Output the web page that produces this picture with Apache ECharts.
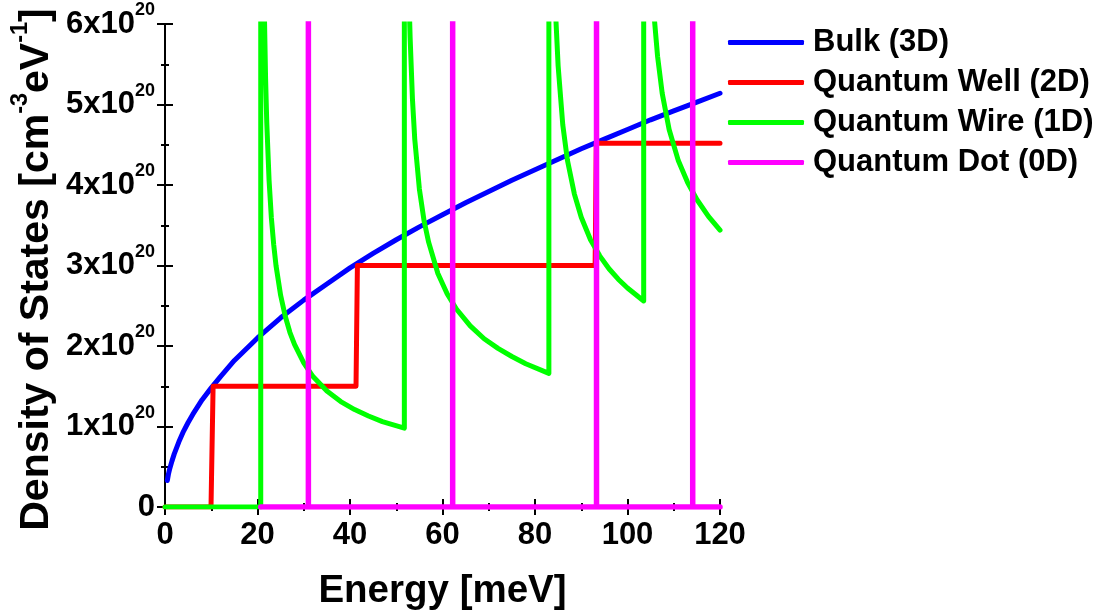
<!DOCTYPE html>
<html><head><meta charset="utf-8">
<script src="https://cdn.jsdelivr.net/npm/echarts@6/dist/echarts.min.js"></script>
<style>html,body{margin:0;padding:0;background:#fff}#c{width:1106px;height:616px}</style>
</head><body><div id="c"></div>
<script>
// x: Energy [meV]; y: Density of States in units of 1e20 cm^-3 eV^-1
const xTickLabels = ['0','20','40','60','80','100','120'];
const yTickExponent = '20';
const seriesNames = ['Bulk (3D)', 'Quantum Well (2D)', 'Quantum Wire (1D)', 'Quantum Dot (0D)'];
const seriesColors = ['#0000ff', '#ff0000', '#00ff00', '#ff00ff'];

const bulk = [[0.5,0.33],[0.75,0.41],[1,0.47],[1.5,0.57],[2,0.66],[3,0.81],[4,0.94],[5,1.05],[6,1.15],[8,1.33],[10,1.48],[12,1.62],[15,1.82],[20,2.10],[25,2.35],[30,2.57],[35,2.77],[40,2.97],[45,3.15],[50,3.32],[55,3.48],[60,3.63],[65,3.78],[70,3.92],[75,4.06],[80,4.19],[85,4.32],[90,4.45],[95,4.57],[100,4.69],[105,4.81],[110,4.92],[115,5.03],[120,5.14]];

const well = [[0,0],[9.95,0],[10.4,1.5],[41.3,1.5],[41.6,3.0],[93.0,3.0],[93.25,4.52],[120,4.52]];

const wire = [[0,0],[20.7,0],[20.7,8],[21.5,6.09],[21.75,5.32],[22,4.78],[22.5,4.06],[23,3.59],[23.5,3.26],[24,3.00],[25,2.63],[26,2.37],[27,2.17],[28,2.02],[30,1.79],[32,1.62],[35,1.44],[38,1.31],[41,1.21],[44,1.13],[47,1.06],[51.75,0.98],
  [51.75,8],[52.9,6.04],[53,5.83],[53.5,5.07],[54,4.57],[55,3.95],[56,3.56],[57,3.29],[59,2.90],[61,2.65],[63,2.46],[66,2.25],[69,2.09],[72,1.97],[75,1.87],[78,1.78],[83.0,1.66],
  [83.0,8],[84.5,6.08],[85,5.48],[86,4.75],[87,4.31],[88.5,3.89],[90,3.60],[92,3.32],[94,3.12],[96,2.96],[98,2.83],[100,2.72],[103.5,2.56],
  [103.5,8],[105.8,6.07],[106.5,5.60],[107.5,5.14],[109,4.69],[111,4.30],[113,4.03],[115,3.82],[117.5,3.61],[120,3.44]];

const dot = [[20.7,0],[31.0,0],[31.0,8],[31.0,0],[62.2,0],[62.2,8],[62.2,0],[93.3,0],[93.3,8],[93.3,0],[114.1,0],[114.1,8],[114.1,0],[120,0]];

const FONT = '"Liberation Sans", Arial, sans-serif';
const chart = echarts.init(document.getElementById('c'), null, {renderer: 'canvas'});

const axisLine = {show: true, lineStyle: {color: '#000', width: 2}};
const axisTick = {show: true, inside: true, length: 8, lineStyle: {color: '#000', width: 2}};
const minorTick = {show: true, splitNumber: 2, length: 4, lineStyle: {color: '#000', width: 2}};

function mkLine(name, data, color, w) {
  return {
    name: name, type: 'line', data: data, showSymbol: false, symbol: 'none',
    clip: true, animation: false,
    lineStyle: {color: color, width: w, cap: 'round', join: 'round'},
    itemStyle: {color: color}
  };
}

chart.setOption({
  animation: false,
  backgroundColor: '#fff',
  grid: {left: 165, top: 24, right: 386, bottom: 109, containLabel: false, outerBoundsMode: 'none'},
  legend: {
    orient: 'vertical', left: 728, top: 27, padding: 0,
    icon: 'roundRect',
    itemWidth: 76, itemHeight: 5, itemGap: 9,
    data: seriesNames,
    textStyle: {fontFamily: FONT, fontWeight: 'bold', fontSize: 31, lineHeight: 31, color: '#000', padding: [0,0,0,4]}
  },
  xAxis: [{
    type: 'value', min: 0, max: 120, interval: 20,
    axisLine: axisLine, axisTick: axisTick, minorTick: minorTick,
    splitLine: {show: false},
    axisLabel: {margin: 13, fontFamily: FONT, fontWeight: 'bold', fontSize: 31, color: '#000',
      formatter: function (v) { return xTickLabels[Math.round(v / 20)]; }},
    name: 'Energy [meV]', nameLocation: 'middle', nameGap: 65, nameMoveOverlap: false,
    nameTextStyle: {fontFamily: FONT, fontWeight: 'bold', fontSize: 38.5, color: '#000'}
  }, {
    type: 'value', position: 'top', min: 0, max: 120, interval: 20,
    axisLine: axisLine, axisTick: axisTick, minorTick: minorTick,
    splitLine: {show: false}, axisLabel: {show: false}
  }],
  yAxis: [{
    type: 'value', min: 0, max: 6, interval: 1,
    axisLine: axisLine, axisTick: axisTick, minorTick: minorTick,
    splitLine: {show: false},
    axisLabel: {margin: 10, fontFamily: FONT, fontWeight: 'bold', fontSize: 31, color: '#000',
      formatter: function (v) { return v === 0 ? '{b|0}' : '{b|' + v + 'x10}{s|' + yTickExponent + '}'; },
      rich: {
        b: {fontFamily: FONT, fontWeight: 'bold', fontSize: 31, lineHeight: 31, color: '#000'},
        s: {fontFamily: FONT, fontWeight: 'bold', fontSize: 18, lineHeight: 45, color: '#000', verticalAlign: 'top'}
      }},
    name: '{n|Density of States [cm}{s|-3}{n|eV}{s|-1}{n|]}',
    nameLocation: 'middle', nameGap: 100, nameRotate: 90, nameMoveOverlap: false,
    nameTextStyle: {
      padding: [0, 8, 0, 0],
      rich: {
        n: {fontFamily: FONT, fontWeight: 'bold', fontSize: 41, lineHeight: 41, color: '#000'},
        s: {fontFamily: FONT, fontWeight: 'bold', fontSize: 23.5, lineHeight: 56, color: '#000', verticalAlign: 'top'}
      }
    }
  }, {
    type: 'value', position: 'right', min: 0, max: 6, interval: 1,
    axisLine: axisLine, axisTick: axisTick, minorTick: minorTick,
    splitLine: {show: false}, axisLabel: {show: false}
  }],
  series: [
    mkLine(seriesNames[0], bulk, seriesColors[0], 5),
    mkLine(seriesNames[1], well, seriesColors[1], 5),
    mkLine(seriesNames[2], wire, seriesColors[2], 5),
    mkLine(seriesNames[3], dot, seriesColors[3], 5.5)
  ]
});
</script>
</body></html>
